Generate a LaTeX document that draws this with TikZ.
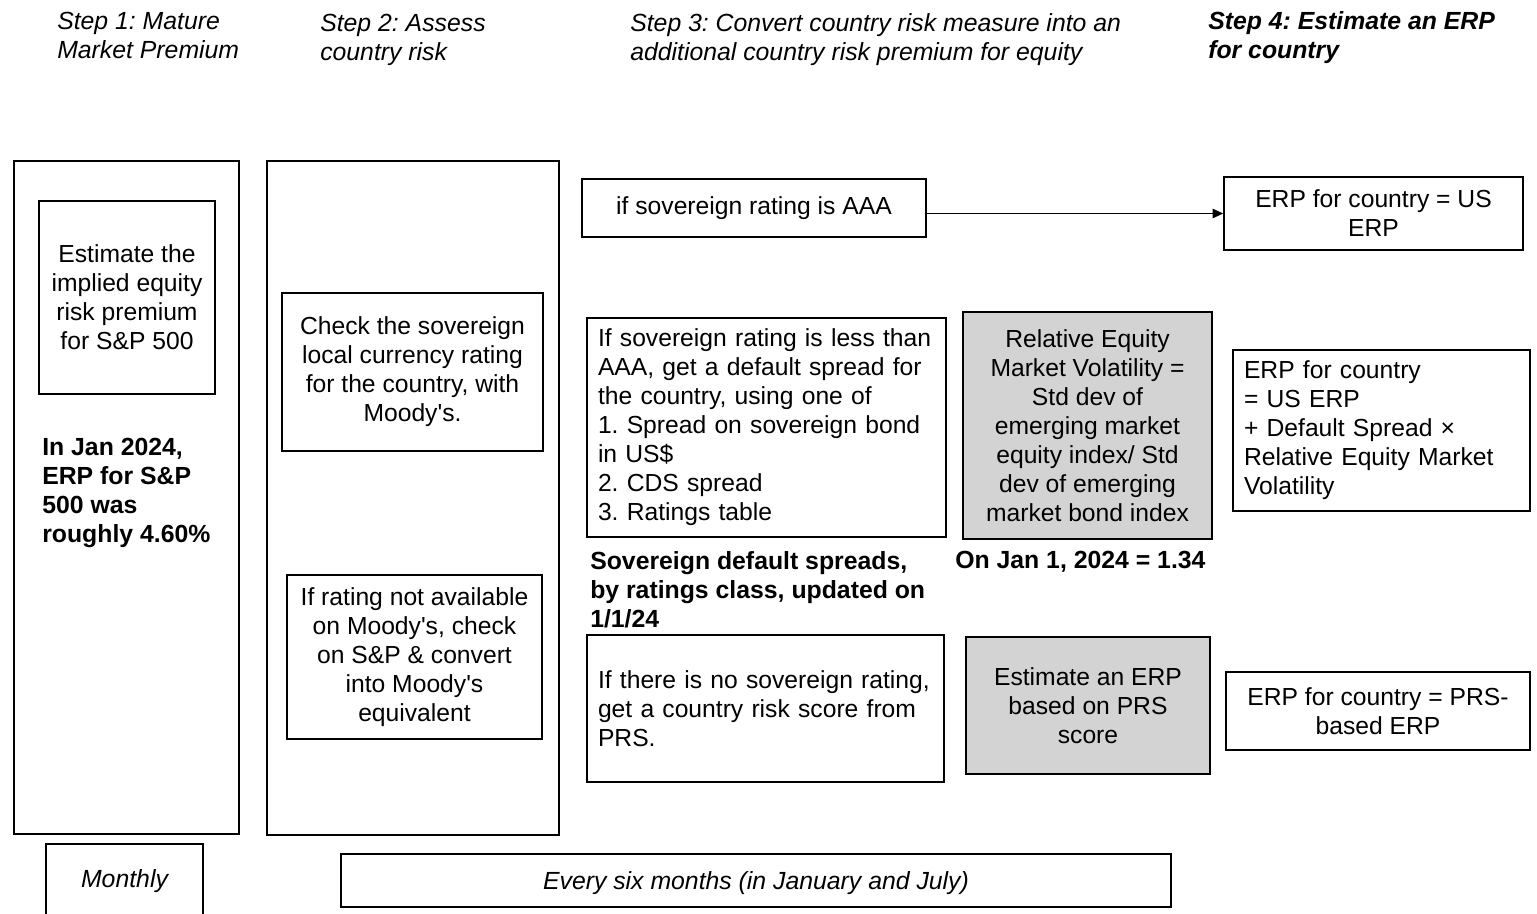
\documentclass[tikz,border=0pt]{standalone}
\usepackage{fontspec}
\setmainfont{Liberation Sans}
\usetikzlibrary{arrows.meta}
\definecolor{boxgray}{RGB}{211,211,211}
\frenchspacing
\begin{document}
\begin{tikzpicture}[x=0.75pt,y=-0.75pt,
  font=\fontsize{18.5}{21.75}\selectfont,
  box/.style={draw, line width=1.1pt, inner sep=0pt, align=center},
  graybox/.style={box, fill=boxgray},
  leftbox/.style={draw, line width=1.1pt, inner ysep=0pt, inner xsep=8.25pt, align=left},
  freetext/.style={inner sep=0pt, anchor=west, align=left},
  head/.style={freetext, font=\fontsize{18.6}{21.75}\selectfont\itshape},
  boldtext/.style={freetext, font=\fontsize{18.6}{21.75}\selectfont\bfseries},
  conn/.style={line width=1.2pt, -{Triangle[length=8pt,width=7pt]}}
]
\useasboundingbox (0,0) rectangle (1537,913);

% headers
\node[head] (h1) at (57,35) {Step 1: Mature\\Market Premium};
\node[head] (h2) at (320,40) {Step 2: Assess\\country risk};
\node[head] (h3) at (630,40) {Step 3: Convert country risk measure into an\\additional country risk premium for equity};
\node[head, font=\fontsize{18.6}{21.75}\selectfont\bfseries\itshape] (h4) at (1208,37.5) {Step 4: Estimate an ERP\\for country};

% column frames
\node[box, minimum width=168.75pt, minimum height=504.75pt] (s1box) at (126.5,497.5) {};
\node[box, minimum width=219pt, minimum height=505.5pt] (s2box) at (413,498) {};

% step 1
\node[box, minimum width=132pt, minimum height=144.75pt] (est) at (127,297.5)
  {Estimate the\\implied equity\\risk premium\\for S\&P 500};
\node[boldtext] (sp500) at (42,492.5) {In Jan 2024,\\ERP for S\&P\\500 was\\roughly 4.60\%};

% step 2
\node[box, minimum width=195.75pt, minimum height=118.5pt] (check) at (412.5,372)
  {Check the sovereign\\local currency rating\\for the country, with\\Moody\textquotesingle s.};
\node[box, minimum width=191.25pt, minimum height=123pt] (notavail) at (414.5,657)
  {If rating not available\\on Moody\textquotesingle s, check\\on S\&P \& convert\\into Moody\textquotesingle s\\equivalent};

% step 3
\node[box, minimum width=258pt, minimum height=43.5pt] (aaa) at (754,208)
  {if sovereign rating is AAA};
\node[leftbox, text width=252.75pt, minimum height=164.25pt] (less) at (766.5,427.5)
  {If sovereign rating is less than\\AAA, get a default spread for\\the country, using one of\\1. Spread on sovereign bond\\in US\$\\2. CDS spread\\3. Ratings table};
\node[graybox, minimum width=186.75pt, minimum height=170.25pt] (rel) at (1087.5,425.5)
  {Relative Equity\\Market Volatility =\\Std dev of\\emerging market\\equity index/ Std\\dev of emerging\\market bond index};
\node[boldtext] (spreads) at (590,589.5) {Sovereign default spreads,\\by ratings class, updated on\\1/1/24};
\node[boldtext] (onjan) at (955,561.5) {On Jan 1, 2024 = 1.34};
\node[leftbox, text width=251.25pt, minimum height=110.25pt] (nor) at (765.5,708.5)
  {If there is no sovereign rating,\\get a country risk score from\\PRS.};
\node[graybox, minimum width=183pt, minimum height=102.75pt] (prs) at (1088,705.5)
  {Estimate an ERP\\based on PRS\\score};

% step 4
\node[box, minimum width=224.25pt, minimum height=54.75pt] (erpus) at (1373.5,213.5)
  {ERP for country = US\\ERP};
\node[leftbox, text width=206.25pt, minimum height=120.75pt] (erpdef) at (1381.5,430.5)
  {ERP for country\\= US ERP\\+ Default Spread ×\\Relative Equity Market\\Volatility};
\node[box, minimum width=228pt, minimum height=58.5pt] (erpprs) at (1378,711)
  {ERP for country = PRS-\\based ERP};

% frequency
\node[box, minimum width=117.75pt, minimum height=55.5pt] (monthly) at (124.5,881) {};
\node[inner sep=0pt, font=\fontsize{18.6}{21.75}\selectfont\itshape] (monthlytxt) at (124.5,881) {Monthly};
\node[box, minimum width=622.5pt, minimum height=39.75pt] (six) at (756,880.5) {};
\node[inner sep=0pt, font=\fontsize{18.6}{21.75}\selectfont\itshape] (sixtxt) at (756,883)
  {Every six months (in January and July)};

% connector
\draw[conn] (aaa.east |- erpus.west) -- (erpus.west);
\end{tikzpicture}
\end{document}
